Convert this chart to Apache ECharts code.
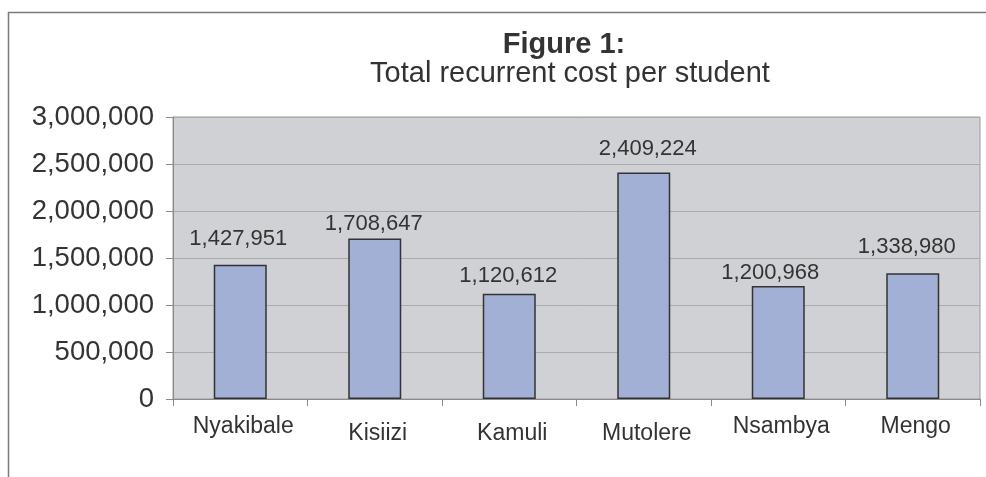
<!DOCTYPE html>
<html>
<head>
<meta charset="utf-8">
<script src="https://cdn.jsdelivr.net/npm/echarts@6/dist/echarts.min.js"></script>
<style>
html,body{margin:0;padding:0;background:#fff;}
#chart{width:986px;height:477px;}
</style>
</head>
<body>
<div id="chart"></div>
<script>
var categories = ['Nyakibale', 'Kisiizi', 'Kamuli', 'Mutolere', 'Nsambya', 'Mengo'];
var costValues = [1427951, 1708647, 1120612, 2409224, 1200968, 1338980];
var titleText = 'Figure 1:';
var subtitleText = 'Total recurrent cost per student';

// label placement styling (how far above each bar the value label sits, and side shift)
var labelGaps = [15, 3, 7, 13, 2, 15];
var labelShifts = [-2, -1, -1, 4, -8, -6];
// category label vertical style: 'hi' or 'lo'
var catLabelStyle = ['hi', 'lo', 'lo', 'lo', 'hi', 'hi'];

function fmt(v) {
  return String(v).replace(/\B(?=(\d{3})+(?!\d))/g, ',');
}

var seriesData = costValues.map(function (v, i) {
  return {
    value: v,
    label: {distance: labelGaps[i], offset: [labelShifts[i], 0]}
  };
});

var chart = echarts.init(document.getElementById('chart'), null, {renderer: 'canvas'});
chart.setOption({
  backgroundColor: '#ffffff',
  animation: false,
  graphic: [{
    type: 'rect',
    shape: {x: 8.5, y: 12.5, width: 1100, height: 600},
    style: {fill: 'none', stroke: '#7a7a7a', lineWidth: 1.5},
    silent: true,
    z: -1
  }, {
    type: 'text',
    x: 564, y: 45,
    style: {
      text: titleText, fontFamily: 'Liberation Sans', fontSize: 29, fontWeight: 'bold',
      fill: '#333333', align: 'center', verticalAlign: 'middle'
    }
  }, {
    type: 'text',
    x: 570, y: 74,
    style: {
      text: subtitleText, fontFamily: 'Liberation Sans', fontSize: 29,
      fill: '#333333', align: 'center', verticalAlign: 'middle'
    }
  }],
  grid: {
    left: 173, right: 6, top: 117, bottom: 78,
    show: true,
    backgroundColor: '#cfd1d4',
    borderColor: '#9a9a9a',
    borderWidth: 1
  },
  xAxis: {
    type: 'category',
    data: categories,
    boundaryGap: true,
    axisLine: {show: true, lineStyle: {color: '#8a8a8a', width: 1}},
    axisTick: {show: true, alignWithLabel: false, length: 7, lineStyle: {color: '#8a8a8a'}},
    axisLabel: {
      margin: 13,
      formatter: function (v, i) { return '{' + catLabelStyle[i] + '|' + v + '}'; },
      rich: {
        hi: {fontFamily: 'Liberation Sans', fontSize: 23, color: '#333333', padding: [3, 0, 0, 6]},
        lo: {fontFamily: 'Liberation Sans', fontSize: 23, color: '#333333', padding: [10, 0, 0, 6]}
      }
    }
  },
  yAxis: {
    type: 'value',
    min: 0, max: 3000000, interval: 500000,
    axisLine: {show: true, lineStyle: {color: '#8a8a8a', width: 1}},
    axisTick: {show: true, length: 7, lineStyle: {color: '#8a8a8a'}},
    axisLabel: {
      fontFamily: 'Liberation Sans', fontSize: 27.5, color: '#333333', margin: 19,
      formatter: function (v) { return fmt(v); }
    },
    splitLine: {show: true, lineStyle: {color: '#a9abad', width: 1}}
  },
  series: [{
    type: 'bar',
    data: seriesData,
    barWidth: 53,
    itemStyle: {color: '#a3b0d5', borderColor: '#333333', borderWidth: 1.5},
    label: {
      show: true,
      position: 'top',
      fontFamily: 'Liberation Sans', fontSize: 22, color: '#333333',
      formatter: function (p) { return fmt(p.value); }
    }
  }]
});
</script>
</body>
</html>
